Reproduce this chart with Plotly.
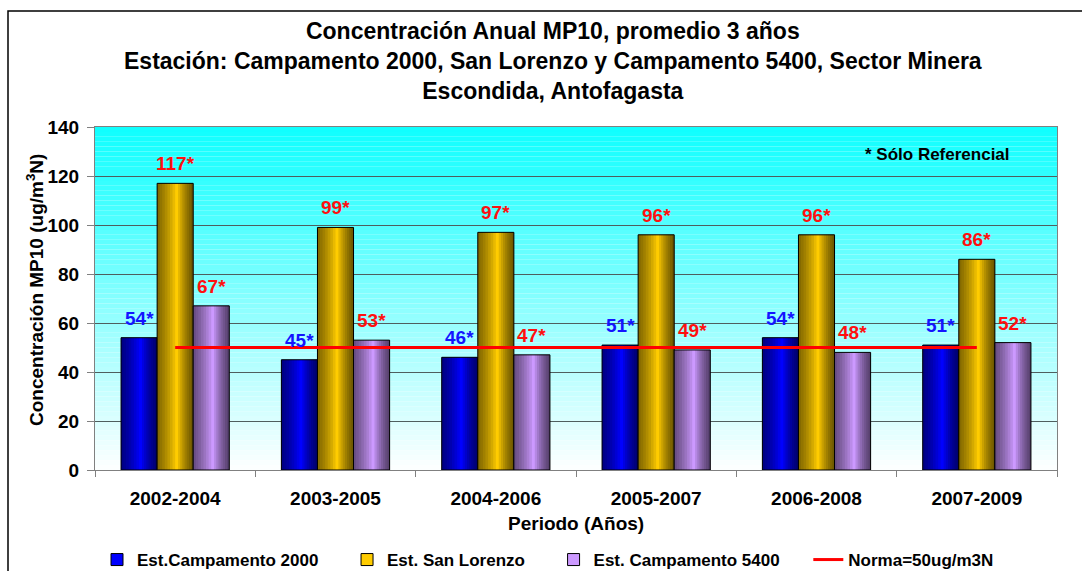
import plotly.graph_objects as go

# ---------------- data ----------------
periods = ["2002-2004", "2003-2005", "2004-2006", "2005-2007", "2006-2008", "2007-2009"]
campamento_2000 = [54, 45, 46, 51, 54, 51]
san_lorenzo = [117, 99, 97, 96, 96, 86]
campamento_5400 = [67, 53, 47, 49, 48, 52]
norma = [50, 50, 50, 50, 50, 50]
y_ticks = [0, 20, 40, 60, 80, 100, 120, 140]

series_names = ["Est.Campamento 2000", "Est. San Lorenzo", "Est. Campamento 5400"]
norma_name = "Norma=50ug/m3N"

# ---------------- layout helpers ----------------
W, H = 1082, 571
L, R, T, B = 95, 1057, 127, 470   # plot area in pixels
FONT = "Liberation Sans, Arial, sans-serif"
PADDING = "\u00a0" * 5  # extra space after legend entries


def px_x(p):
    return (p - L) / (R - L)


def px_y(p):
    return (B - p) / (B - T)


def bold(size, color="#000000"):
    return dict(family=FONT, size=size, color=color, weight="bold")


fig = go.Figure()

bar_w = 0.225
series = [
    (series_names[0], campamento_2000, "#0000FF", -1.5, "#1414FF"),
    (series_names[1], san_lorenzo, "#FFCC00", -0.5, "#FF1010"),
    (series_names[2], campamento_5400, "#CC99FF", 0.5, "#FF1010"),
]

N = 7
for name, vals, color, k, lblcolor in series:
    off = k * bar_w
    fig.add_trace(go.Bar(
        x=periods, y=vals, name=name + PADDING, offset=off, width=bar_w,
        marker=dict(color=color, line=dict(color="#000000", width=1)),
        hoverinfo="x+y",
    ))
    # cylinder-like shading: darker bands towards both edges
    for i in range(1, N + 1):
        wl = i * (0.5 * bar_w / N)
        fig.add_trace(go.Bar(
            x=periods, y=vals, offset=off, width=wl, showlegend=False,
            marker=dict(color="rgba(0,0,0,0.085)", line=dict(width=0)),
            hoverinfo="skip",
        ))
        wr = i * (0.42 * bar_w / N)
        fig.add_trace(go.Bar(
            x=periods, y=vals, offset=off + bar_w - wr, width=wr, showlegend=False,
            marker=dict(color="rgba(0,0,0,0.11)", line=dict(width=0)),
            hoverinfo="skip",
        ))

fig.add_trace(go.Scatter(
    x=periods, y=norma, name=norma_name, mode="lines",
    line=dict(color="#FF0000", width=3),
))

# data labels
for name, vals, color, k, lblcolor in series:
    for p, v in zip(periods, vals):
        fig.add_annotation(
            x=p, y=v, xref="x", yref="y", text=f"{v}*", showarrow=False,
            xshift=(k + 0.5) * bar_w * (R - L) / len(periods), yanchor="bottom", yshift=7,
            font=bold(19, lblcolor),
        )

# background gradient (cyan -> white)
n_strips = 70
for i in range(n_strips):
    f = i / (n_strips - 1)
    r = int(round(16 + (252 - 16) * f))
    fig.add_shape(
        type="rect", xref="x domain", yref="y domain",
        x0=0, x1=1, y0=1 - (i + 1) / n_strips, y1=1 - i / n_strips,
        fillcolor=f"rgb({r},255,255)", line=dict(width=0), layer="below",
    )

# outer frame
fig.add_shape(
    type="rect", xref="paper", yref="paper",
    x0=px_x(8), x1=px_x(1095), y0=px_y(585), y1=px_y(11),
    line=dict(color="#000000", width=1.5), fillcolor="rgba(0,0,0,0)", layer="above",
)

# title
fig.add_annotation(
    xref="paper", yref="paper", x=px_x(553), y=px_y(61), xanchor="center", yanchor="middle",
    text="Concentración Anual MP10, promedio 3 años<br>Estación: Campamento 2000, San Lorenzo y Campamento 5400, Sector Minera<br>Escondida, Antofagasta",
    showarrow=False, font=bold(23),
)

# axis titles
fig.add_annotation(
    xref="paper", yref="paper", x=px_x(35), y=px_y(290), xanchor="center", yanchor="middle",
    text="Concentración MP10 (ug/m<sup>3</sup>N)", textangle=-90, showarrow=False,
    font=bold(19),
)
fig.add_annotation(
    xref="paper", yref="paper", x=px_x(576), y=px_y(523), xanchor="center", yanchor="middle",
    text="Periodo (Años)", showarrow=False,
    font=bold(19),
)
fig.add_annotation(
    xref="paper", yref="paper", x=px_x(937), y=px_y(154), xanchor="center", yanchor="middle",
    text="* Sólo Referencial", showarrow=False,
    font=bold(17),
)

fig.update_layout(
    width=W, height=H,
    margin=dict(l=L, r=W - R, t=T, b=H - B, pad=0, autoexpand=False),
    paper_bgcolor="#FFFFFF", plot_bgcolor="#FFFFFF",
    barmode="overlay",
    font=dict(family=FONT, color="#000000"),
    showlegend=True,
    legend=dict(
        orientation="h", x=px_x(97), y=px_y(560), xanchor="left", yanchor="middle",
        font=bold(17),
        bgcolor="rgba(0,0,0,0)", tracegroupgap=0,
    ),
    xaxis=dict(
        type="category", range=[-0.5, 5.5],
        showline=True, linecolor="#808080", linewidth=1, mirror=True,
        ticks="outside", tickson="boundaries", ticklen=6, tickcolor="#808080",
        tickfont=bold(19),
        ticklabelstandoff=11, showgrid=False,
    ),
    yaxis=dict(
        range=[0, 140], tickvals=y_ticks,
        showline=True, linecolor="#808080", linewidth=1, mirror=True,
        ticks="outside", ticklen=7, tickcolor="#808080",
        tickfont=bold(19),
        ticklabelstandoff=4,
        showgrid=True, gridcolor="#4f5f5f", gridwidth=1, zeroline=False,
    ),
)

fig.write_html(
    "out.html",
    config={"displayModeBar": False},
    post_script="document.body.style.margin='0';",
)
